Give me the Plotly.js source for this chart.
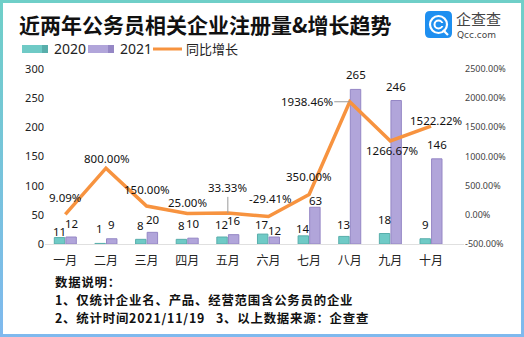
<!DOCTYPE html>
<html>
<head>
<meta charset="utf-8">
<script src="https://cdn.plot.ly/plotly-3.0.1.min.js"></script>
<style>
  html, body { margin: 0; padding: 0; background: #fff; }
  #wrap { position: relative; width: 524px; height: 337px; overflow: hidden; }
  #chart { position: absolute; left: 0; top: 0; width: 524px; height: 337px; }
  #frame { position: absolute; left: 0; top: 0; width: 524px; height: 337px; box-sizing: border-box;
    border: 3px solid transparent; pointer-events: none;
    border-image: linear-gradient(to bottom, #6fcfc8, #7fb9ee) 1; }
</style>
</head>
<body>
<div id="wrap"><div id="chart"></div><div id="frame"></div></div>
<script>
// ---- data ----
const months = ['一月', '二月', '三月', '四月', '五月', '六月', '七月', '八月', '九月', '十月'];
const v2020 = [11, 1, 8, 8, 12, 17, 14, 13, 18, 9];
const v2021 = [12, 9, 20, 10, 16, 12, 63, 265, 246, 146];
const growth = [9.09, 800.00, 150.00, 25.00, 33.33, -29.41, 350.00, 1938.46, 1266.67, 1522.22];
const leftTicks = [0, 50, 100, 150, 200, 250, 300];
const rightTicks = [-500, 0, 500, 1000, 1500, 2000, 2500];
const seriesNames = ['2020', '2021', '同比增长'];
const titleText = '近两年公务员相关企业注册量&增长趋势';
const noteLines = ['数据说明：', '1、仅统计企业名、产品、经营范围含公务员的企业',
  '2、统计时间2021/11/19\u00a0\u00a0\u00a03、以上数据来源：企查查'];

// ---- styling ----
const FONT = 'Noto Sans, "Noto Sans CJK SC", sans-serif';
const CJK = '"Noto Sans CJK SC", Noto Sans, sans-serif';
const C20 = '#6fcac6', C20d = '#58aeab';
const C21 = '#b1a5da', C21d = '#9587c5';
const CL = '#f7933f';

const M = {l: 45, r: 60, t: 69, b: 93};
const W = 524, H = 337;
const PW = W - M.l - M.r, PH = H - M.t - M.b;
const px = x => (x - M.l) / PW;
const py = y => (H - M.b - y) / PH;

const traces = [
  {type: 'bar', name: seriesNames[0], x: months, y: v2020, yaxis: 'y',
   marker: {color: C20, line: {color: C20d, width: 1}}, hoverinfo: 'skip'},
  {type: 'bar', name: seriesNames[1], x: months, y: v2021, yaxis: 'y',
   marker: {color: C21, line: {color: C21d, width: 1}}, hoverinfo: 'skip'},
  {type: 'scatter', mode: 'lines', name: seriesNames[2], x: months, y: growth, yaxis: 'y2',
   line: {color: CL, width: 3.5}, hoverinfo: 'skip'}
];

const ann = [];
// bar value label vertical offsets (pixels above bar top), style only
const lift20 = [6, 15, 13.5, 13.5, 13, 9.5, 7, 11.5, 14, 14];
const lift21 = [14, 14, 13, 15, 14, 6.5, 6.5, 14.5, 14, 14];
months.forEach((m, i) => {
  ann.push({x: m, y: v2020[i], xref: 'x', yref: 'y', text: String(v2020[i]), showarrow: false,
    xanchor: 'center', yanchor: 'middle',
    xshift: -6, yshift: lift20[i], font: {family: FONT, size: 11.5, color: '#111'}});
  ann.push({x: m, y: v2021[i], xref: 'x', yref: 'y', text: String(v2021[i]), showarrow: false,
    xanchor: 'center', yanchor: 'middle',
    xshift: 6, yshift: lift21[i], font: {family: FONT, size: 11.5, color: '#111'}});
});
// growth label pixel offsets [ax, ay, leader line?] (style only)
const gOff = [[0, -17, 0], [1, -10, 0], [0, -17, 0], [0, -11, 0], [0, -25, 1],
              [2, -18, 0], [0, -18, 0], [-43, 0, 1], [2, 10, 0], [5, -6, 0]];
months.forEach((m, i) => {
  const o = gOff[i];
  ann.push({x: m, y: growth[i], xref: 'x', yref: 'y2', text: growth[i].toFixed(2) + '%',
    showarrow: true, arrowhead: 0, arrowwidth: 1, standoff: 0,
    arrowcolor: o[2] ? '#9a9a9a' : 'rgba(0,0,0,0)',
    axref: 'pixel', ayref: 'pixel', ax: o[0], ay: o[1],
    font: {family: FONT, size: 11.5, color: '#111'}});
});
// title
ann.push({xref: 'paper', yref: 'paper', x: px(17), y: py(24), xanchor: 'left', yanchor: 'middle',
  text: '<b>' + titleText + '</b>', showarrow: false, font: {family: CJK, size: 21, color: '#111'}});
// legend texts
ann.push({xref: 'paper', yref: 'paper', x: px(52), y: py(49), xanchor: 'left', yanchor: 'middle',
  text: seriesNames[0], showarrow: false, font: {family: FONT, size: 14, color: '#222'}});
ann.push({xref: 'paper', yref: 'paper', x: px(118), y: py(49), xanchor: 'left', yanchor: 'middle',
  text: seriesNames[1], showarrow: false, font: {family: FONT, size: 14, color: '#222'}});
ann.push({xref: 'paper', yref: 'paper', x: px(184), y: py(49), xanchor: 'left', yanchor: 'middle',
  text: seriesNames[2], showarrow: false, font: {family: CJK, size: 13, color: '#222'}});
// logo texts
ann.push({xref: 'paper', yref: 'paper', x: px(455), y: py(19), xanchor: 'left', yanchor: 'middle',
  text: '企查查', showarrow: false, font: {family: CJK, size: 15, color: '#444'}, borderpad: 0});
ann.push({xref: 'paper', yref: 'paper', x: px(456), y: py(35.5), xanchor: 'left', yanchor: 'middle',
  text: 'Qcc.com', showarrow: false, font: {family: 'DejaVu Sans, sans-serif', size: 9, color: '#444'}, borderpad: 0});
// notes (separate lines)
const noteY = [281.5, 299.5, 317.5];
const noteStart = ann.length;
noteLines.forEach((t, i) => {
  ann.push({xref: 'paper', yref: 'paper', x: px(54), y: py(noteY[i]), xanchor: 'left', yanchor: 'middle',
    text: '<b>' + t + '</b>', showarrow: false, borderpad: 0,
    font: {family: CJK, size: 12.4, color: '#111'}});
});

// shapes: legend swatches and logo
function rr(x0, y0, x1, y1, r) {
  const X = px, Y = py;
  return `M ${X(x0 + r)},${Y(y0)} L ${X(x1 - r)},${Y(y0)} Q ${X(x1)},${Y(y0)} ${X(x1)},${Y(y0 + r)} ` +
    `L ${X(x1)},${Y(y1 - r)} Q ${X(x1)},${Y(y1)} ${X(x1 - r)},${Y(y1)} L ${X(x0 + r)},${Y(y1)} ` +
    `Q ${X(x0)},${Y(y1)} ${X(x0)},${Y(y1 - r)} L ${X(x0)},${Y(y0 + r)} Q ${X(x0)},${Y(y0)} ${X(x0 + r)},${Y(y0)} Z`;
}
const shapes = [
  {type: 'rect', xref: 'paper', yref: 'paper', x0: px(22), x1: px(42), y0: py(53), y1: py(45), fillcolor: C20, line: {width: 0}},
  {type: 'rect', xref: 'paper', yref: 'paper', x0: px(42), x1: px(48), y0: py(53), y1: py(45), fillcolor: C20d, line: {width: 0}},
  {type: 'rect', xref: 'paper', yref: 'paper', x0: px(88), x1: px(108), y0: py(53), y1: py(45), fillcolor: C21, line: {width: 0}},
  {type: 'rect', xref: 'paper', yref: 'paper', x0: px(108), x1: px(114), y0: py(53), y1: py(45), fillcolor: C21d, line: {width: 0}},
  {type: 'line', xref: 'paper', yref: 'paper', x0: px(153), x1: px(182), y0: py(49), y1: py(49), line: {color: CL, width: 3}},
  {type: 'path', xref: 'paper', yref: 'paper', path: rr(425, 11, 452, 38, 5), fillcolor: '#1e8ff0', line: {width: 0}},
  {type: 'circle', xref: 'paper', yref: 'paper', x0: px(430), x1: px(447), y0: py(33), y1: py(16), line: {color: '#fff', width: 2.2}},
  {type: 'circle', xref: 'paper', yref: 'paper', x0: px(434.5), x1: px(442.5), y0: py(28.5), y1: py(20.5), line: {color: '#fff', width: 2}},
  {type: 'rect', xref: 'paper', yref: 'paper', x0: px(441), x1: px(444), y0: py(26), y1: py(23), fillcolor: '#1e8ff0', line: {width: 0}},
  {type: 'line', xref: 'paper', yref: 'paper', x0: px(443), x1: px(448), y0: py(30), y1: py(35), line: {color: '#fff', width: 2.2}}
];

const layout = {
  width: W, height: H, margin: M,
  paper_bgcolor: '#fff', plot_bgcolor: '#fff',
  showlegend: false,
  barmode: 'group', bargap: 0.43, bargroupgap: 0.1,
  font: {family: FONT, color: '#222'},
  xaxis: {type: 'category', showgrid: false, zeroline: false, showline: true, linecolor: '#e0e0e0', linewidth: 1,
    ticks: '', tickfont: {family: CJK, size: 12, color: '#222'}, ticklabelstandoff: 6, fixedrange: true},
  yaxis: {range: [0, 300], tickmode: 'array', tickvals: leftTicks, showgrid: false, zeroline: false, showline: false,
    ticks: '', tickfont: {family: FONT, size: 11, color: '#222'}, fixedrange: true},
  yaxis2: {overlaying: 'y', side: 'right', range: [-500, 2500], tickmode: 'array', tickvals: rightTicks,
    ticktext: rightTicks.map(v => v.toFixed(2) + '%'), showgrid: false, zeroline: false, showline: false,
    ticks: '', tickfont: {family: FONT, size: 9, color: '#444'}, fixedrange: true},
  annotations: ann,
  shapes: shapes
};

Plotly.newPlot('chart', traces, layout, {staticPlot: true, displayModeBar: false}).then(gd => {
  // widen note lines slightly to match reference letter spacing, keeping left edge fixed
  for (let k = 0; k < noteLines.length; k++) {
    const t = gd.querySelector('g.annotation[data-index="' + (noteStart + k) + '"] text');
    if (!t) continue;
    const b0 = t.getBBox();
    t.style.letterSpacing = '0.8px';
    const b1 = t.getBBox();
    t.setAttribute('transform', 'translate(' + (b0.x - b1.x) + ',0)');
  }
});
</script>
</body>
</html>
